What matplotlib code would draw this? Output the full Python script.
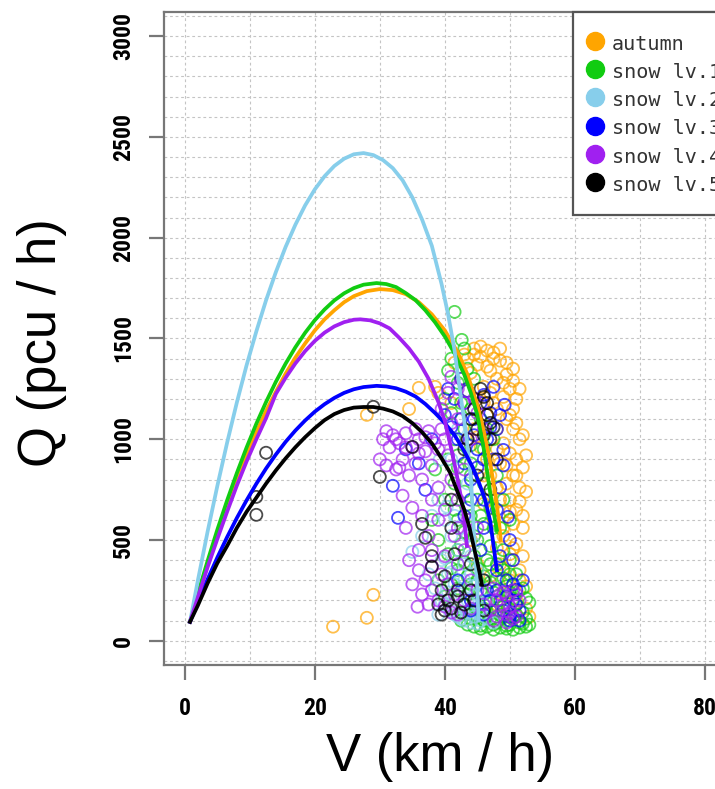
import matplotlib
matplotlib.use("Agg")
from matplotlib import pyplot as plt
from matplotlib import font_manager
from matplotlib.lines import Line2D
from matplotlib.ticker import MultipleLocator
import numpy as np

labels = ["autumn", "snow lv.1", "snow lv.2", "snow lv.3", "snow lv.4", "snow lv.5"]
colors = ["#FFA500", "#11CC11", "#87CEEB", "#0000FF", "#A020F0", "#000000"]

# observed (V, Q) pairs per condition
autumn_v = [44.5, 45.5, 46.5, 47.5, 48.5, 49.5, 50.5, 44, 45, 47, 48, 49, 50, 51, 46, 43.5, 45, 47.5, 50.5, 42.5, 41.5, 43,
            49.5, 50.5, 51.5, 49, 50, 51, 52, 48.5, 50.5, 49.5, 51.5, 52.5, 48, 47, 50, 51, 49, 47.5, 50.5, 52, 46, 45.5, 44.5, 48, 46.5,
            49, 51, 50, 52, 48.5, 51.5, 50, 52.5, 49.5, 51, 52.5, 53, 48, 47,
            43.5, 44.5, 45.5, 46.5, 47.5, 48.5, 49.5, 50.5, 51.5, 46, 47, 48, 49, 50, 51, 52, 45, 46.5, 48, 49.5, 51, 52.5,
            47, 48.5, 50, 51.5, 46, 49, 52, 50.5, 51.5, 49, 48,
            22.8, 28, 29, 28, 36, 34.5, 39, 41, 44, 45, 38.5]
autumn_q = [1420, 1460, 1440, 1400, 1450, 1380, 1350, 1330, 1370, 1340, 1300, 1280, 1250, 1200, 1260, 1240, 1200, 1180, 1150, 1300, 1380, 1420,
            1100, 1050, 1000, 980, 930, 900, 860, 880, 820, 780, 760, 740, 760, 700, 700, 650, 640, 600, 580, 560, 820, 960, 1050, 1050, 1120,
            520, 480, 430, 420, 380, 350, 300, 270, 240, 200, 160, 120, 180, 320,
            1400, 1450, 1410, 1360, 1430, 1390, 1320, 1290, 1250, 1180, 1230, 1150, 1210, 1120, 1080, 1020, 1010, 900, 950, 870, 820, 920,
            820, 700, 640, 690, 680, 560, 620, 460, 300, 360, 460,
            70, 114, 228, 1121, 1255, 1150, 1230, 1180, 500, 380, 1260]

lv1_v = [41.5, 42.6, 43, 41, 40.5, 42, 43.5, 44.5,
         40, 41, 42.5, 44, 45.5, 46.5, 43, 41.5, 44, 46, 47.5, 42, 40.5,
         42, 44, 46, 48, 43, 45, 47, 49, 41.5, 44, 46, 48.5, 50, 43, 45, 47, 49, 42, 44.5, 46.5, 48, 50,
         42, 43.5, 45, 47, 49, 51, 44, 46, 48, 50, 52, 43, 45, 47, 49, 51, 53, 44, 46, 48, 50, 52, 53,
         45.5, 47.5, 49.5, 51.5, 52.5, 50.5, 48.5, 46.5, 44.5, 41, 40, 39, 38, 39, 40, 38.5,
         42.5, 43.5, 44.5, 45.5, 46.5, 47.5, 48.5, 49.5, 50.5, 51.5, 52.5, 43, 44, 45, 46, 47, 48, 49, 50, 51, 52,
         44.5, 46.5, 48.5, 50.5, 52.5, 43.5, 45.5, 47.5, 49.5, 51.5, 42, 44, 46, 48, 50, 41, 43, 45, 47, 49,
         40.5, 42.5, 44.5, 42, 43.5, 45.5, 47.5, 41.5, 44]
lv1_q = [1632, 1493, 1450, 1400, 1340, 1280, 1350, 1300,
         1200, 1130, 1180, 1150, 1100, 1050, 1050, 1000, 970, 950, 1000, 920, 900,
         860, 820, 780, 820, 740, 700, 660, 700, 650, 620, 580, 560, 600, 540, 500, 470, 450, 450, 420, 400, 380, 400,
         350, 320, 300, 290, 310, 330, 250, 230, 220, 240, 260, 180, 160, 150, 170, 180, 190, 110, 100, 90, 80, 85, 80,
         60, 55, 60, 65, 110, 120, 130, 140, 200, 280, 220, 300, 600, 500, 700, 850,
         100, 80, 70, 75, 70, 80, 65, 75, 55, 90, 70, 140, 130, 120, 160, 110, 150, 120, 160, 130, 140,
         180, 190, 200, 210, 210, 230, 250, 240, 270, 250, 260, 280, 320, 310, 330, 360, 390, 360, 380, 350,
         430, 480, 520, 600, 660, 620, 560, 780, 880]

lv2_v = [35, 36.5, 38, 39, 40, 41, 42, 43, 44, 45, 46, 39.5, 40.5, 41.5, 42.5, 43.5, 44.5, 45.5, 46.5, 47.5,
         40, 41, 42, 43, 44, 45, 38.5, 39.5, 37.5, 41, 42, 43.5, 40.3, 39.2,
         41.5, 42.5, 43.5, 44.5, 45.5, 42, 43, 44, 45, 46, 41, 43, 45, 40, 42, 44, 46, 43.5, 44.5, 42.5, 41.5,
         39, 40.5, 45.5, 46.5]
lv2_q = [441, 520, 620, 700, 600, 520, 450, 380, 330, 280, 240, 400, 330, 280, 230, 200, 160, 130, 110, 90,
         180, 150, 120, 100, 90, 85, 260, 200, 330, 900, 1050, 780, 665, 898,
         130, 110, 140, 120, 100, 220, 260, 200, 230, 180, 340, 300, 350, 410, 380, 420, 300, 520, 480, 560, 620,
         130, 240, 160, 200]

lv3_v = [49.2, 49, 49.7, 51, 37, 32.8, 32, 40, 41, 42, 43, 44.5, 46, 47, 48, 45, 47.5, 46, 48.5, 50, 50.5, 49.5, 50.5,
         51.5, 52, 49, 48, 47, 40.5, 42.5, 38, 36, 34, 44, 43, 45.5, 42, 44, 46, 50, 51.5,
         41.5, 43.5, 45.5, 47.5, 42.5, 44.5, 46.5, 48.5, 45, 47, 49, 43, 46, 48, 44, 46, 48.5, 50.5, 49.5, 51, 50, 48, 46.5, 44]
lv3_q = [1171, 947, 615, 253, 749, 610, 769, 1120, 1060, 1000, 1180, 1100, 1220, 1130, 1050, 950, 900, 700, 760, 500, 400, 300, 200,
         150, 300, 150, 250, 200, 1250, 1300, 1000, 880, 950, 800, 620, 450, 300, 200, 130, 100, 100,
         1200, 1240, 1180, 1260, 1100, 1020, 1000, 1120, 860, 1060, 870, 880, 900, 650, 700, 560, 420, 280, 220, 180, 120, 350, 250, 150]

lv4_v = [30.5, 31.5, 32, 33, 33.5, 34, 35, 35.5, 36, 37, 37.5, 30, 31, 32.5, 34.5, 36.5, 38, 39, 40, 41, 39.5, 40.5, 42, 41, 43,
         33.5, 35, 36.5, 34, 38, 39, 37.5,
         35.8, 34.5, 36, 37, 38, 39, 40, 41, 42, 37.5, 39.5, 40.5, 41.5, 43, 44, 38, 40, 42, 36,
         47, 48, 49, 50, 51, 49.5, 48.5, 50.5, 47.5, 51.5,
         42, 43, 44, 45, 43.5, 45,
         31, 32.5, 34, 35.5, 37, 38.5, 33, 36, 39.5, 40.5, 42, 41, 43.5, 44.5, 39, 40, 41.5, 38, 36.5, 35,
         44, 45, 46, 48, 49, 50, 47.5, 49.5, 50.5, 51, 43, 42, 46]
lv4_q = [1000, 960, 1020, 980, 900, 1030, 960, 880, 1000, 940, 1040, 900, 870, 850, 820, 800, 870, 950, 1000, 1080, 1150, 1230, 1250, 1310, 1180,
         720, 660, 620, 560, 700, 600, 520,
         169, 400, 350, 300, 250, 200, 170, 140, 130, 180, 330, 280, 230, 200, 160, 450, 420, 380, 450,
         150, 120, 180, 140, 120, 90, 230, 250, 260, 200,
         700, 850, 1000, 1130, 600, 560,
         1040, 1000, 960, 1050, 1010, 980, 860, 930, 1050, 920, 1100, 800, 1000, 1200, 760, 650, 520, 370, 230, 280,
         300, 250, 180, 200, 240, 170, 100, 130, 110, 230, 450, 560, 1050]

lv5_v = [12.5, 11, 11, 29, 30, 46, 47, 35, 37, 38, 39.5, 40.5, 41, 42, 43, 40, 42.5, 44, 45, 46.5, 47, 44.5, 43, 38, 36.5,
         41, 46, 44,
         45.5, 46.5, 47.5, 44, 46, 48, 45, 47, 43.5, 41, 40, 39, 42, 44.5, 46, 41.5, 39.5]
lv5_q = [933, 714, 625, 1161, 813, 1210, 1081, 962, 511, 367, 250, 200, 160, 220, 180, 150, 140, 250, 1050, 1120, 1000, 1150, 950, 420, 580,
         700, 300, 380,
         1250, 1180, 1060, 1100, 1020, 900, 820, 750, 1000, 560, 320, 180, 250, 200, 150, 430, 130]

# fitted Q-V curves
autumn_fit_v = [0.8, 2, 3.5, 5, 6.5, 8, 9.5, 11, 12.5, 14, 15.5, 17, 18.5, 20, 21.5, 23, 24.5, 26, 28, 30,
                32, 34, 36, 38, 40, 42, 43.5, 45, 46, 47, 47.8, 48.3, 48.6]
autumn_fit_q = [94, 220, 380, 530, 670, 800, 920, 1035, 1140, 1235, 1325, 1405, 1475, 1540, 1595, 1640, 1680, 1710, 1735, 1745,
                1740, 1720, 1680, 1620, 1540, 1430, 1320, 1170, 1040, 880, 720, 600, 500]

lv1_fit_v = [0.8, 2, 3.5, 5, 6.5, 8, 9.5, 11, 12.5, 14, 15.5, 17, 18.5, 20, 21.5, 23, 24.5, 26, 27.5, 29.5,
             31, 32.5, 34, 35.5, 37, 38.5, 40, 41.5, 43, 44, 45, 46, 46.9, 47.5, 48]
lv1_fit_q = [94, 233, 396, 551, 696, 832, 959, 1077, 1185, 1285, 1375, 1456, 1528, 1591, 1644, 1689, 1724, 1750, 1767, 1775,
             1770, 1755, 1725, 1690, 1640, 1580, 1510, 1425, 1320, 1230, 1120, 950, 750, 640, 550]

lv2_fit_v = [0.8, 2, 3.5, 5, 6.5, 8, 9.5, 11, 12.5, 14, 15.5, 17, 18.5, 20, 21.5, 23, 24.5, 26, 27.5,
             29, 30.5, 32, 33.5, 35, 36.5, 38, 39.5, 40.5, 41.5, 42.5, 43.3, 44, 44.6, 45, 45.2]
lv2_fit_q = [94, 298, 541, 768, 982, 1182, 1367, 1535, 1690, 1829, 1954, 2064, 2160, 2240, 2305, 2356, 2392, 2414, 2420,
             2410, 2385, 2345, 2285, 2200, 2090, 1960, 1770, 1620, 1440, 1200, 1020, 810, 470, 250, 100]

lv3_fit_v = [0.8, 2, 3.5, 5, 6.5, 8, 9.5, 11, 12.5, 14, 15.5, 17, 18.5, 20, 21.5, 23, 24.5, 26, 27.5, 29.5,
             31, 32.5, 34, 35.5, 37, 38.5, 40, 41.5, 43, 44.3, 45.3, 46.2, 47, 47.5, 48]
lv3_fit_q = [94, 191, 305, 413, 514, 609, 697, 779, 855, 924, 987, 1043, 1093, 1137, 1174, 1205, 1230, 1248, 1259, 1265,
             1262, 1253, 1236, 1212, 1175, 1130, 1080, 1020, 940, 860, 780, 700, 590, 470, 350]

lv4_fit_v = [0.8, 2, 3.5, 5, 6.5, 8, 9.5, 11, 12.5, 14, 15.5, 17, 18.5, 20, 21.5, 23, 24.5, 26, 27,
             28.5, 30, 31.5, 33, 34.5, 36, 37.5, 39, 40, 41, 41.8, 42.5, 43, 43.4]
lv4_fit_q = [94, 215, 365, 505, 640, 770, 890, 1000, 1105, 1225, 1305, 1376, 1437, 1488, 1529, 1560, 1581, 1593, 1595,
             1590, 1575, 1550, 1503, 1450, 1385, 1300, 1185, 1090, 950, 830, 710, 600, 470]

lv5_fit_v = [0.8, 2, 3.5, 5, 6.5, 8, 9.5, 11, 12.5, 14, 15.5, 17, 18.5, 20, 21.5, 23, 24.5, 26, 27.5,
             29, 30.5, 32, 33.5, 35, 36.5, 38, 39.5, 40.8, 42, 43, 43.8, 44.5, 45, 45.4, 45.7]
lv5_fit_q = [94, 175, 285, 385, 470, 560, 640, 710, 780, 845, 905, 960, 1010, 1055, 1095, 1125, 1145, 1157, 1160,
             1160, 1152, 1138, 1115, 1080, 1035, 980, 905, 835, 735, 650, 560, 460, 390, 330, 280]

points = [(autumn_v, autumn_q), (lv1_v, lv1_q), (lv2_v, lv2_q), (lv3_v, lv3_q), (lv4_v, lv4_q), (lv5_v, lv5_q)]
fits = [(autumn_fit_v, autumn_fit_q), (lv1_fit_v, lv1_fit_q), (lv2_fit_v, lv2_fit_q),
        (lv3_fit_v, lv3_fit_q), (lv4_fit_v, lv4_fit_q), (lv5_fit_v, lv5_fit_q)]

# narrow bold face for the tick numbers if one is around
installed = {f.name for f in font_manager.fontManager.ttflist}
tick_font = "DejaVu Sans"
for name in ["Liberation Sans Narrow", "DejaVu Sans Condensed", "Roboto Condensed", "Open Sans Condensed"]:
    if name in installed:
        tick_font = name
        break

fig = plt.figure(figsize=(7.15, 7.89), dpi=100)
ax = fig.add_axes([0.2294, 0.1572, 0.7855, 0.8276])

for (v, q), c in zip(points, colors):
    ax.scatter(v, q, s=75, facecolors="none", edgecolors=c, linewidths=1.3, alpha=0.7, zorder=2)

for (v, q), c in zip(fits, colors):
    ax.plot(v, q, color=c, lw=2.7, solid_joinstyle="round", zorder=3)

ax.set_xlim(-3.2, 83.2)
ax.set_ylim(-120, 3120)
ax.set_xticks(np.arange(0, 81, 20))
ax.set_yticks(np.arange(0, 3001, 500))
ax.xaxis.set_minor_locator(MultipleLocator(10))
ax.yaxis.set_minor_locator(MultipleLocator(100))
ax.grid(which="both", color="#c4c4c4", linestyle=(0, (2.5, 2.5)), linewidth=0.8)
ax.set_axisbelow(True)

for side in ax.spines.values():
    side.set_color("#777777")
    side.set_linewidth(1.6)

ax.tick_params(which="major", length=11, width=1.6, color="#777777")
ax.tick_params(which="minor", length=0)
ax.tick_params(axis="x", pad=12)
ax.tick_params(axis="y", pad=10)

for t in ax.get_xticklabels() + ax.get_yticklabels():
    t.set_family(tick_font)
    t.set_fontweight("bold")
    t.set_fontsize(17)
for t in ax.get_yticklabels():
    t.set_rotation(90)
    t.set_va("center")

handles = [Line2D([], [], marker="o", linestyle="none", markersize=13, color=c) for c in colors]
leg = ax.legend(handles, labels, loc="upper left", bbox_to_anchor=(0.728, 1.0), borderaxespad=0,
                prop={"family": "DejaVu Sans Mono", "size": 14.5}, labelspacing=0.31, borderpad=1.0,
                handlelength=0.2, handleheight=1.3, handletextpad=0.75, fancybox=False, framealpha=1)
leg.get_frame().set_edgecolor("#555555")
leg.get_frame().set_linewidth(1.6)
for t in leg.get_texts():
    t.set_color("#333333")

fig.text(0.615, 1 - 757 / 789, "V (km / h)", family="Liberation Sans", fontsize=38, ha="center", va="center")
fig.text(0.0587, 1 - 343 / 789, "Q (pcu / h)", family="Liberation Sans", fontsize=38, ha="center", va="center",
         rotation=90)

fig.savefig("out.png", dpi=100)
